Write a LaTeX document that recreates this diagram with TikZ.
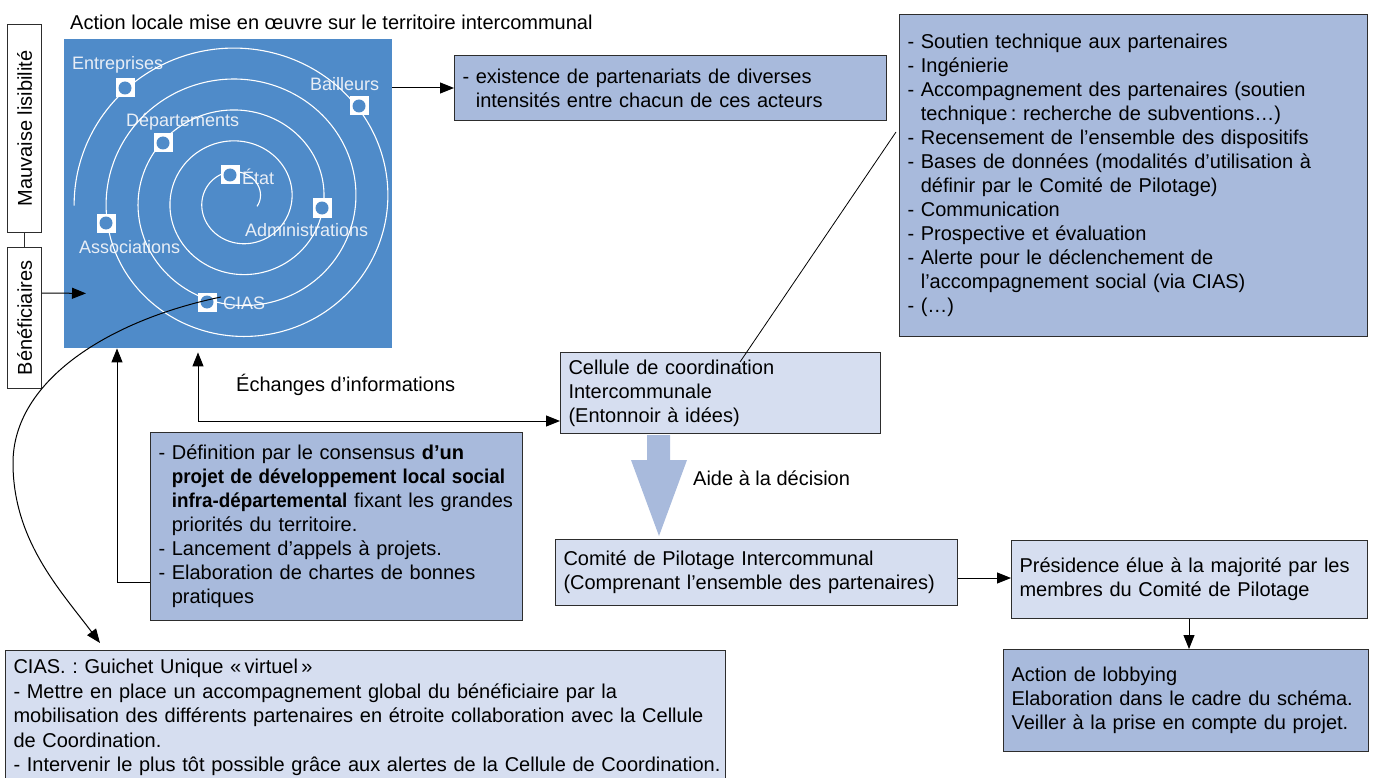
\documentclass[tikz,border=0pt]{standalone}
\usepackage{fontspec}
\setmainfont{Liberation Sans}
\usetikzlibrary{arrows.meta,calc}
\definecolor{sqblue}{RGB}{79,139,201}
\definecolor{boxdark}{RGB}{168,186,220}
\definecolor{boxlight}{RGB}{214,222,240}
\definecolor{edgec}{RGB}{45,45,45}
\definecolor{lblc}{RGB}{232,238,246}
\newcommand\fsz{\fontsize{20}{24}\selectfont}
\newcommand\ind{\hphantom{- }}
\frenchspacing
\begin{document}
\begin{tikzpicture}[x=1pt,y=-1pt,
  box/.style={draw=edgec, line width=1pt, anchor=north west, inner xsep=8pt, inner ysep=0pt, align=left, font=\fsz, text=black},
  dark/.style={box, fill=boxdark},
  light/.style={box, fill=boxlight},
  arr/.style={-{Triangle[length=14pt,width=11pt]}, line width=1pt, black},
  lbl/.style={anchor=west, text=lblc, font=\fontsize{18}{22}\selectfont, inner sep=0pt},
  plain/.style={anchor=west, font=\fsz, inner sep=0pt},
  marker/.style={fill=white, minimum size=19pt, inner sep=0pt, path picture={\fill[sqblue] (path picture bounding box.center) circle (6.5pt);}},
  side/.style={draw=edgec, line width=1pt, fill=white, anchor=north west, minimum width=34pt, inner sep=0pt, font=\fsz}
]
\useasboundingbox (0,0) rectangle (1375,778);

\node[plain] (title) at (70,22) {Action locale mise en œuvre sur le territoire intercommunal};

% blue square with spiral
\node[fill=sqblue, anchor=north west, minimum width=328pt, minimum height=309pt, inner sep=0pt] (sq) at (64,39) {};
\node[lbl] (lEnt) at (72,65) {Entreprises};
\node[lbl] (lBai) at (310,84) {Bailleurs};
\node[lbl] (lDep) at (126,122) {Départements};
\node[lbl] (lEta) at (242,177) {État};
\node[lbl] (lAdm) at (245,230) {Administrations};
\node[lbl] (lAss) at (79,247) {Associations};
\node[lbl] (lCia) at (223,303) {CIAS};
\draw[white, line width=1.1pt] plot[domain=-20:1622, samples=700, smooth]
  ({239+0.95*(22+0.0935*\x)*cos(\x)}, {200-0.92*(22+0.0935*\x)*sin(\x)});
\node[marker] (mEnt) at (125,88) {};
\node[marker] (mBai) at (359,106) {};
\node[marker] (mDep) at (163,143) {};
\node[marker] (mEta) at (230,175) {};
\node[marker] (mAdm) at (322,208) {};
\node[marker] (mAss) at (106,223) {};
\node[marker] (mcias) at (207,302) {};

% side boxes
\node[side, minimum height=208pt] (mauv) at (7,24) {\rotatebox{90}{Mauvaise lisibilité}};
\node[side, minimum height=141pt] (bene) at (7,247) {\rotatebox{90}{Bénéficiaires}};
\draw[line width=1pt, edgec] (mauv.south) -- (bene.north);

% boxes
\node[dark, text width=416pt, minimum height=65pt] (exist) at (454,55)
 {\mbox{- existence de partenariats de diverses}\\\mbox{\ind intensités entre chacun de ces acteurs}};

\node[dark, text width=452pt, minimum height=322pt] (big) at (899,14)
 {\mbox{- Soutien technique aux partenaires}\\
  \mbox{- Ingénierie}\\
  \mbox{- Accompagnement des partenaires (soutien}\\
  \mbox{\ind technique\,: recherche de subventions…)}\\
  \mbox{- Recensement de l’ensemble des dispositifs}\\
  \mbox{- Bases de données (modalités d’utilisation à}\\
  \mbox{\ind définir par le Comité de Pilotage)}\\
  \mbox{- Communication}\\
  \mbox{- Prospective et évaluation}\\
  \mbox{- Alerte pour le déclenchement de}\\
  \mbox{\ind l’accompagnement social (via CIAS)}\\
  \mbox{- (…)}};

\node[light, text width=304pt, minimum height=81pt] (cel) at (560,352)
 {Cellule de coordination\\Intercommunale\\(Entonnoir à idées)};

\node[dark, text width=356pt, minimum height=188pt] (def) at (150,432)
 {\mbox{- Définition par le consensus \textbf{d’un}}\\
  \mbox{\ind\scalebox{0.94}[1]{\textbf{projet de développement local social}}}\\
  \mbox{\ind\scalebox{0.94}[1]{\textbf{infra-départemental}} fixant les grandes}\\
  \mbox{\ind priorités du territoire.}\\
  \mbox{- Lancement d’appels à projets.}\\
  \mbox{- Elaboration de chartes de bonnes}\\
  \mbox{\ind pratiques}};

\node[light, text width=386pt, minimum height=66pt] (com) at (555,539)
 {Comité de Pilotage Intercommunal\\(Comprenant l’ensemble des partenaires)};

\node[light, text width=340pt, minimum height=78pt] (pres) at (1011,540)
 {Présidence élue à la majorité par les\\membres du Comité de Pilotage};

\node[dark, text width=349pt, minimum height=102pt] (act) at (1003,649)
 {Action de lobbying\\Elaboration dans le cadre du schéma.\\Veiller à la prise en compte du projet.};

\node[light, text width=704pt, minimum height=134pt, font=\fontsize{20}{24.5}\selectfont] (cias) at (5,650)
 {\mbox{CIAS. : Guichet Unique «\,virtuel\,»}\\
  \mbox{- Mettre en place un accompagnement global du bénéficiaire par la}\\
  \mbox{mobilisation des différents partenaires en étroite collaboration avec la Cellule}\\
  \mbox{de Coordination.}\\
  \mbox{- Intervenir le plus tôt possible grâce aux alertes de la Cellule de Coordination.}};

% plain labels
\node[plain] (ech) at (236,385) {Échanges d’informations};
\node[plain] (aide) at (693,478) {Aide à la décision};

% fat arrow
\coordinate (fa) at ($(cel.south west)+(99,1)$);
\fill[boxdark] ($(fa)+(-12,0)$) -- ++(23,0) -- ++(0,25) -- ++(17,0) -- ($(fa)+(0,101)$)
  -- ($(fa)+(-28,25)$) -- ++(16,0) -- cycle;

% connectors
\draw[arr] ($(bene.north east)+(0,46)$) -- ($(sq.south west)+(22,-55)$);
\draw[arr] ($(sq.north east)+(0,49)$) -- ($(exist.north west)+(0,33)$);
\draw[line width=0.8pt] ($(big.north west)+(-3,118)$) -- ($(cel.north west)+(180,10)$);
\draw[{Triangle[length=14pt,width=11pt]}-{Triangle[length=14pt,width=11pt]}, line width=1pt]
  ($(sq.south west)+(134,4)$) |- ($(cel.south west)+(0,-13)$);
\draw[arr] ($(def.south west)+(0,-39)$) -| ($(sq.south west)+(53,0)$);
\draw[arr] ($(com.north east)+(0,39)$) -- ($(pres.north west)+(0,38)$);
\draw[arr] ($(pres.south west)+(178,0)$) -- ($(act.north west)+(186,0)$);
\draw[arr] ($(mcias)+(14,-5)$) .. controls (110,320) and (13,380) .. (13,463)
  .. controls (13,540) and (60,590) .. ($(cias.north west)+(95,-7)$);
\end{tikzpicture}
\end{document}
